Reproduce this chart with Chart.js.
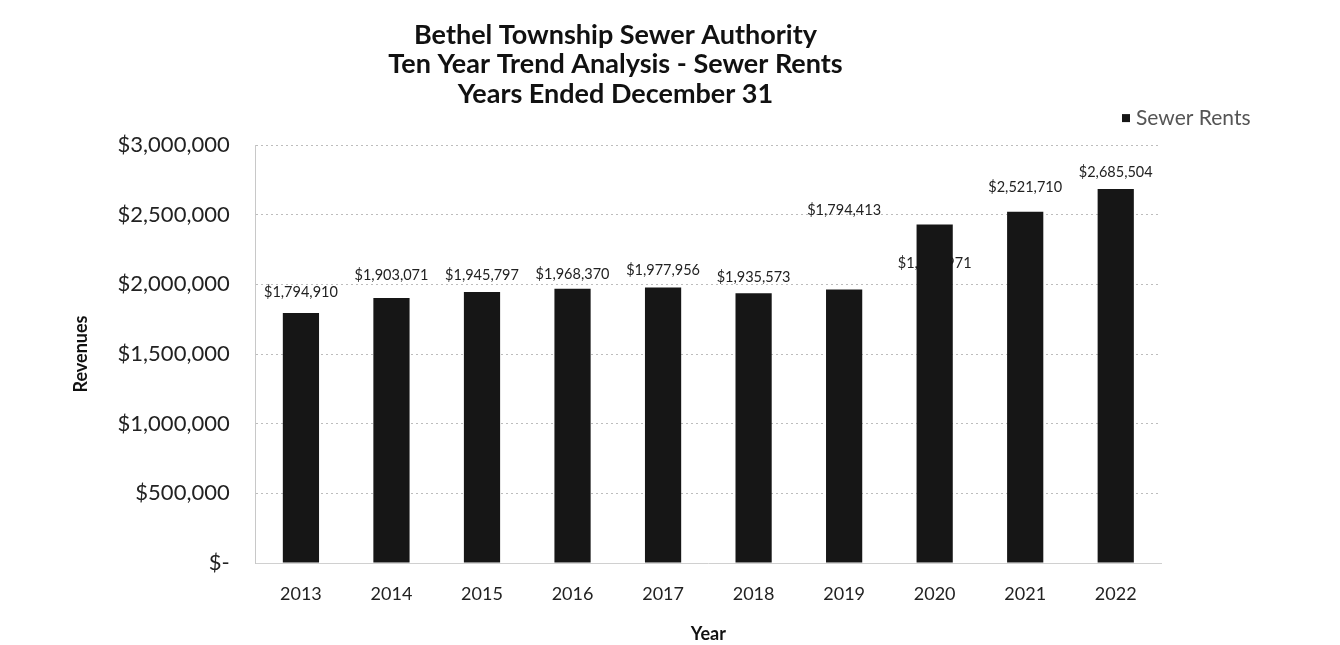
<!DOCTYPE html>
<html>
<head>
<meta charset="utf-8">
<title>Bethel Township Sewer Authority - Sewer Rents</title>
<script src="https://cdn.jsdelivr.net/npm/chart.js@4.4.1/dist/chart.umd.min.js"></script>
<style>
  html, body { margin: 0; padding: 0; background: #fff; }
  #chart1 { display: block; }
</style>
</head>
<body>
<canvas id="chart1" width="1340" height="645"></canvas>
<script>
// data
const years = ['2013', '2014', '2015', '2016', '2017', '2018', '2019', '2020', '2021', '2022'];
const sewerRents = [1794910, 1903071, 1945797, 1968370, 1977956, 1935573, 1963000, 2430000, 2521710, 2685504];
// the labels as printed (2019 and 2020 are printed oddly in the original)
const valueLabels = ['$1,794,910', '$1,903,071', '$1,945,797', '$1,968,370', '$1,977,956',
  '$1,935,573', '$1,794,413', '$1,964,971', '$2,521,710', '$2,685,504'];
const seriesName = 'Sewer Rents';
const titleLines = ['Bethel Township Sewer Authority', 'Ten Year Trend Analysis - Sewer Rents', 'Years Ended December 31'];

// how far above the bar top each label sits (px)
const labelLift = [21, 23, 17, 14, 17, 16, 79, -39, 24, 17];

const barColor = '#161616';
const fontFam = 'Lato, "Open Sans", sans-serif';

function money(v) {
  if (v === 0) return '$-';
  return '$' + v.toLocaleString('en-US');
}

// labels go under the bars, so the 2020 one gets covered like in the scan
const barLabels = {
  id: 'barLabels',
  beforeDatasetsDraw(chart) {
    const ctx = chart.ctx;
    const meta = chart.getDatasetMeta(0);
    ctx.save();
    ctx.font = '14.5px ' + fontFam;
    ctx.fillStyle = '#222';
    ctx.textAlign = 'center';
    ctx.textBaseline = 'middle';
    meta.data.forEach((bar, i) => {
      ctx.fillText(valueLabels[i], bar.x, bar.y - labelLift[i]);
    });
    ctx.restore();
  },
};

// legend sits outside the plot on the right, above the top gridline
const sideLegend = {
  id: 'sideLegend',
  afterDraw(chart) {
    const ctx = chart.ctx;
    const area = chart.chartArea;
    const x = area.right - 39;
    const y = area.top - 27;
    ctx.save();
    ctx.fillStyle = barColor;
    ctx.fillRect(x, y - 4, 8, 8);
    ctx.font = '21px ' + fontFam;
    ctx.fillStyle = '#555';
    ctx.textAlign = 'left';
    ctx.textBaseline = 'middle';
    ctx.fillText(chart.data.datasets[0].label, x + 14, y);
    ctx.restore();
  },
};

const ctx = document.getElementById('chart1').getContext('2d');
const chart1 = new Chart(ctx, {
  type: 'bar',
  data: {
    labels: years,
    datasets: [
      {
        label: seriesName,
        data: sewerRents,
        backgroundColor: barColor,
        borderWidth: 0,
        barPercentage: 0.4,
        categoryPercentage: 1,
      },
    ],
  },
  options: {
    responsive: false,
    animation: false,
    layout: {
      padding: { left: 70, right: 179, top: 0, bottom: 2 },
    },
    plugins: {
      legend: { display: false },
      tooltip: { enabled: false },
      title: {
        display: true,
        text: titleLines,
        color: '#111',
        font: { family: fontFam, size: 27, weight: 'bold', lineHeight: 1.1 },
        padding: { top: 20, bottom: 36 },
      },
    },
    scales: {
      x: {
        grid: { display: false, drawTicks: false },
        border: { display: true, color: '#d0d0d0', dash: [2, 3] },
        ticks: {
          color: '#222',
          font: { family: fontFam, size: 18, lineHeight: 1 },
          padding: 22,
        },
        title: {
          display: true,
          text: 'Year',
          color: '#111',
          font: { family: fontFam, size: 18, weight: 'bold', lineHeight: 1 },
          padding: { top: 0, bottom: 0 },
        },
      },
      y: {
        min: 0,
        max: 3000000,
        grid: { color: '#bdbdbd', drawTicks: false },
        border: { display: true, color: '#c8c8c8', dash: [2, 3] },
        ticks: {
          stepSize: 500000,
          color: '#222',
          font: { family: fontFam, size: 22 },
          padding: 26,
          callback: (v) => money(v),
        },
        title: {
          display: true,
          text: 'Revenues',
          color: '#111',
          font: { family: fontFam, size: 18, weight: 'bold' },
          padding: { top: 0, bottom: 0 },
        },
      },
    },
  },
  plugins: [barLabels, sideLegend],
});
</script>
</body>
</html>
